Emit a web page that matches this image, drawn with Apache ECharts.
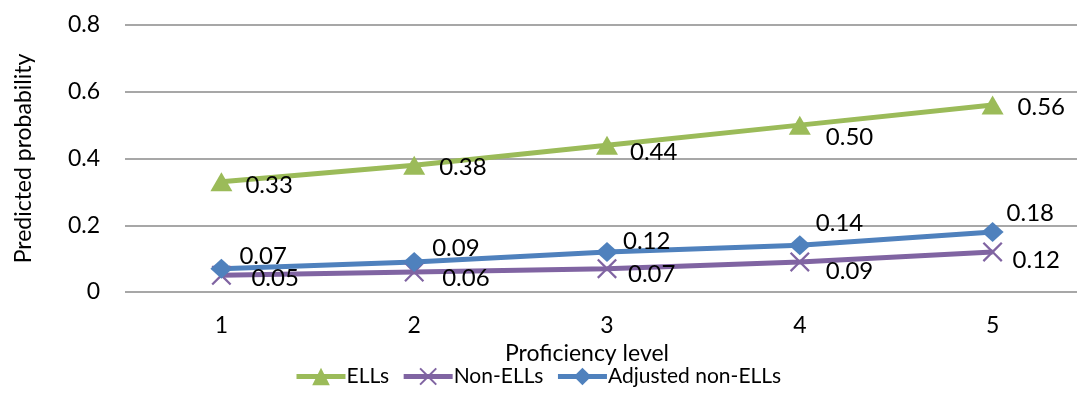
<!DOCTYPE html>
<html><head><meta charset="utf-8">
<script src="https://cdn.jsdelivr.net/npm/echarts@6/dist/echarts.min.js"></script>
<style>html,body{margin:0;padding:0;background:#fff}#c{width:1077px;height:393px;overflow:hidden}</style>
</head><body><div id="c"></div>
<script>
const categories = ['1', '2', '3', '4', '5'];
const ells = [0.33, 0.38, 0.44, 0.50, 0.56];
const nonElls = [0.05, 0.06, 0.07, 0.09, 0.12];
const adjustedNonElls = [0.07, 0.09, 0.12, 0.14, 0.18];
const yTicks = [0, 0.2, 0.4, 0.6, 0.8];

// label nudges (style only: pixel offsets of each value label from its marker)
const ellsNudge = [[24, 3], [25, 2], [23, 7], [26, 12], [25, 2]];
const nonEllsNudge = [[30, 3], [28, 6], [21, 6], [26, 9], [20, 8]];
const adjNudge = [[18, -12], [18, -14], [16, -11], [16, -22], [14, -19]];

const FONT = 'Lato, "Open Sans", sans-serif';
const xPath = 'path://M0,0.8 L0.8,0 L5,4.2 L9.2,0 L10,0.8 L5.8,5 L10,9.2 L9.2,10 L5,5.8 L0.8,10 L0,9.2 L4.2,5 Z';
const chart = echarts.init(document.getElementById('c'));
const withLabels = (vals, nudges) => vals.map((v, i) => ({
  value: v,
  label: {offset: nudges[i]}
}));
const lbl = {show: true, position: 'inside', align: 'left', verticalAlign: 'middle',
  color: '#000', fontSize: 24, fontFamily: FONT, formatter: p => p.value.toFixed(2)};
chart.setOption({
  animation: false,
  grid: {left: 125, width: 964, top: 25, bottom: 101, containLabel: false, outerBoundsMode: 'none'},
  legend: {
    bottom: 1, left: 289, itemWidth: 49, itemHeight: 22, itemGap: 12,
    lineStyle: {width: 5},
    textStyle: {fontSize: 21, fontFamily: FONT, color: '#000', padding: [0, 0, 0, -4]},
    data: ['ELLs', 'Non-ELLs', 'Adjusted non-ELLs']
  },
  xAxis: {
    type: 'category', data: categories, boundaryGap: true,
    name: 'Proficiency level', nameLocation: 'middle', nameGap: 50,
    nameTextStyle: {fontSize: 23, fontFamily: FONT, color: '#000', padding: [0, 40, 0, 0]},
    axisLine: {show: false}, axisTick: {show: false},
    axisLabel: {fontSize: 23, fontFamily: FONT, color: '#000', margin: 22}
  },
  yAxis: {
    type: 'value', min: 0, max: 0.8, interval: 0.2,
    name: 'Predicted probability', nameLocation: 'middle', nameGap: 90,
    nameTextStyle: {fontSize: 23, fontFamily: FONT, color: '#000'},
    axisLine: {show: false}, axisTick: {show: false},
    axisLabel: {fontSize: 23, fontFamily: FONT, color: '#000', margin: 25,
      formatter: v => { const t = yTicks.find(k => Math.abs(k - v) < 1e-9); return t === 0 ? '0' : t.toFixed(1); }},
    splitLine: {lineStyle: {color: '#8a8a8a', width: 1.5}}
  },
  series: [
    {name: 'ELLs', type: 'line', data: withLabels(ells, ellsNudge), symbol: 'triangle', symbolSize: [22, 19],
     lineStyle: {color: '#9BBB59', width: 5}, itemStyle: {color: '#9BBB59'}, label: lbl},
    {name: 'Non-ELLs', type: 'line', data: withLabels(nonElls, nonEllsNudge), symbol: xPath, symbolSize: 20,
     lineStyle: {color: '#8064A2', width: 5}, itemStyle: {color: '#8064A2'}, label: lbl},
    {name: 'Adjusted non-ELLs', type: 'line', data: withLabels(adjustedNonElls, adjNudge), symbol: 'diamond', symbolSize: [22, 20],
     lineStyle: {color: '#4F81BD', width: 5}, itemStyle: {color: '#4F81BD'}, label: lbl}
  ]
});
</script></body></html>
